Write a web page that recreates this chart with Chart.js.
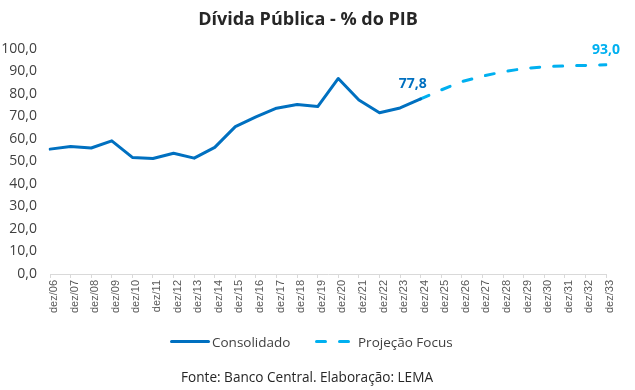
<!DOCTYPE html>
<html>
<head>
<meta charset="utf-8">
<script src="https://cdn.jsdelivr.net/npm/chart.js@4"></script>
<style>
  html, body { margin: 0; padding: 0; background: #fff; }
  #wrap { position: relative; width: 635px; height: 390px; overflow: hidden; font-family: "Open Sans", sans-serif; }
  #c { position: absolute; left: 0; top: 0; }
  .title { position: absolute; top: 6px; left: 0; width: 616px; text-align: center; font-weight: bold; font-size: 18px; color: #262626; line-height: 1.36; }
  .lg { position: absolute; font-size: 13.5px; color: #404040; white-space: nowrap; line-height: 18px; top: 333px; }
  .sw { position: absolute; height: 3px; border-radius: 2px; top: 340px; }
  .source { position: absolute; top: 367px; left: 0; width: 614px; text-align: center; font-size: 13.6px; color: #262626; line-height: 19px; }
</style>
</head>
<body>
<div id="wrap">
  <canvas id="c" width="635" height="390"></canvas>
  <div class="title">Dívida Pública - % do PIB</div>
  <div class="sw" style="left:170px;width:40px;background:#0070C0"></div>
  <div class="lg" style="left:212px">Consolidado</div>
  <div class="sw" style="left:315px;width:12px;background:#00B0F0"></div>
  <div class="sw" style="left:338px;width:12px;background:#00B0F0"></div>
  <div class="lg" style="left:358px">Projeção Focus</div>
  <div class="source">Fonte: Banco Central. Elaboração: LEMA</div>
</div>
<script>
const categories = ["dez/06","dez/07","dez/08","dez/09","dez/10","dez/11","dez/12","dez/13","dez/14","dez/15","dez/16","dez/17","dez/18","dez/19","dez/20","dez/21","dez/22","dez/23","dez/24","dez/25","dez/26","dez/27","dez/28","dez/29","dez/30","dez/31","dez/32","dez/33"];
const consolidado = [55.5,56.7,56.0,59.2,51.8,51.3,53.7,51.5,56.3,65.5,69.8,73.7,75.3,74.4,86.9,77.3,71.7,73.8,77.8,null,null,null,null,null,null,null,null,null];
const projecao = [null,null,null,null,null,null,null,null,null,null,null,null,null,null,null,null,null,null,77.8,81.8,85.5,87.9,89.9,91.3,92.1,92.5,92.7,93.0];
const yTicks = [0,10,20,30,40,50,60,70,80,90,100];
const labelPoints = [{ds:0, idx:18, text:"77,8", color:"#0070C0", dx:-8}, {ds:1, idx:27, text:"93,0", color:"#00B0F0", dx:0}];

const fmt = v => v.toFixed(1).replace('.', ',');

const dataLabels = {
  id: 'dataLabels',
  afterDatasetsDraw(chart) {
    const ctx = chart.ctx;
    ctx.save();
    ctx.font = 'bold 14px "Open Sans"';
    ctx.textAlign = 'center';
    ctx.textBaseline = 'middle';
    labelPoints.forEach(lp => {
      const el = chart.getDatasetMeta(lp.ds).data[lp.idx];
      ctx.fillStyle = lp.color;
      ctx.fillText(lp.text, el.x + lp.dx, el.y - 15);
    });
    ctx.restore();
  }
};

new Chart(document.getElementById('c'), {
  type: 'line',
  data: {
    labels: categories,
    datasets: [
      { label: 'Consolidado', data: consolidado, borderColor: '#0070C0', borderWidth: 3, pointRadius: 0, tension: 0, borderCapStyle: 'round', borderJoinStyle: 'round', spanGaps: false },
      { label: 'Projeção Focus', data: projecao, borderColor: '#00B0F0', borderWidth: 3, pointRadius: 0, tension: 0, borderDash: [9, 14], borderCapStyle: 'round', spanGaps: false }
    ]
  },
  options: {
    responsive: false,
    animation: false,
    events: [],
    layout: { padding: { top: 49, right: 29, left: 0, bottom: 0 } },
    plugins: { legend: { display: false }, title: { display: false }, tooltip: { enabled: false } },
    scales: {
      x: {
        offset: false,
        grid: { display: true, drawOnChartArea: false, drawTicks: true, tickLength: 4, color: '#d9d9d9' },
        border: { display: true, color: '#d9d9d9', width: 1 },
        ticks: { autoSkip: false, minRotation: 90, maxRotation: 90, padding: 2, labelOffset: 4, color: '#595959', font: { family: 'Liberation Sans', size: 11 } },
        afterFit(s) { s.height = 116; }
      },
      y: {
        min: 0, max: 100,
        grid: { display: false, drawTicks: false },
        border: { display: false },
        afterBuildTicks(s) { s.ticks = yTicks.map(v => ({ value: v })); },
        ticks: { padding: 13, color: '#404040', font: { family: 'Open Sans', size: 14 }, callback: v => fmt(v) },
        afterFit(s) { s.width = 50; }
      }
    }
  },
  plugins: [dataLabels]
});
</script>
</body>
</html>
